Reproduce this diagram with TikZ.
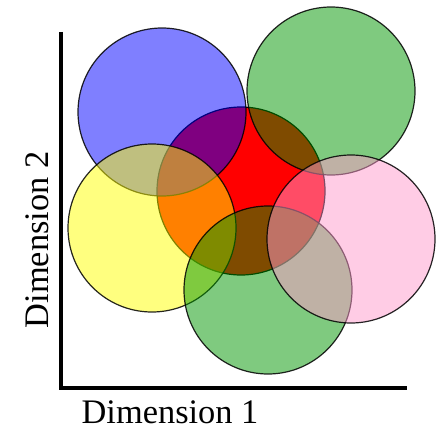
\documentclass[tikz,border=0pt]{standalone}
\usepackage{fontspec}
\setmainfont{Liberation Serif}
\usepackage{tikz}
\usetikzlibrary{positioning}
\definecolor{setblue}{RGB}{0,0,255}
\definecolor{setgreen}{RGB}{0,150,0}
\definecolor{setyellow}{RGB}{255,255,0}
\definecolor{setpink}{RGB}{255,153,204}
\definecolor{setred}{RGB}{255,0,0}

\begin{document}
\begin{tikzpicture}[
    x=0.5pt, y=-0.5pt,
    blob/.style={circle, draw=black, line width=0.6pt, inner sep=0pt,
                 minimum size=84pt},
    tblob/.style={blob, fill opacity=0.5, draw opacity=0.85},
    axis/.style={line width=1.9pt, black},
    lab/.style={font=\fontsize{17.2}{20}\selectfont}
  ]
  \useasboundingbox (0,0) rectangle (443,433);
  % the sets
  \node[blob, fill=setred] (red) at (241,191) {};
  \node[tblob, fill=setblue] (blue) at (162,112) {};
  \node[tblob, fill=setyellow] (yellow) at (152,228) {};
  \node[tblob, fill=setgreen] (greentop) at (331,91) {};
  \node[tblob, fill=setgreen] (greenbot) at (268,290) {};
  \node[tblob, fill=setpink] (pink) at (351,239) {};
  % axes
  \coordinate (origin) at (61,388);
  \coordinate (ytop) at (61,32);
  \coordinate (xend) at (407,388);
  \draw[axis] (ytop) -- (origin) -- (xend);
  \node[lab] (xlab) at (170,412) {Dimension 1};
  \node[lab, rotate=90] (ylab) at (37,240) {Dimension 2};
\end{tikzpicture}
\end{document}
